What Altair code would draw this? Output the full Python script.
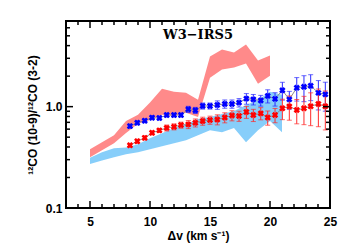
import altair as alt
import pandas as pd

# ---- model bands ----
pink_v = [5, 6, 7, 8, 9, 10, 11, 12, 13, 14, 15, 16, 17, 18, 19, 20]
pink_lo = [0.316, 0.371, 0.435, 0.55, 0.68, 0.74, 0.83, 0.81, 0.87, 0.79, 1.93, 2.32, 2.43, 2.66, 1.68, 2.02]
pink_hi = [0.380, 0.446, 0.523, 0.72, 0.83, 1.10, 1.50, 1.40, 1.37, 1.17, 3.12, 3.66, 3.42, 4.11, 2.85, 3.19]

sky_v = [5, 6, 7, 8, 9, 10, 11, 12, 13, 14, 15, 16, 17, 18, 19, 20, 21]
sky_lo = [0.272, 0.295, 0.316, 0.339, 0.355, 0.380, 0.407, 0.435, 0.467, 0.523, 0.586, 0.560, 0.614, 0.446, 0.586, 0.721, 0.560]
sky_hi = [0.313, 0.355, 0.389, 0.395, 0.425, 0.489, 0.548, 0.614, 0.673, 0.755, 0.790, 0.846, 0.906, 1.040, 1.166, 1.40, 1.307]

# ---- observed ratios ----
vel = [8.33, 8.94, 9.56, 10.17, 10.78, 11.39, 12.00, 12.58, 13.19, 13.78, 14.39, 15.00, 15.61, 16.23,
       16.83, 17.42, 18.03, 18.61, 19.23, 19.81, 20.42, 21.03, 21.61, 22.23, 22.83, 23.39, 24.03, 24.61]
blue_ratio = [0.643, 0.693, 0.726, 0.778, 0.773, 0.827, 0.827, 0.827, 0.942, 0.920, 1.016, 1.016, 1.040, 1.064,
              1.064, 1.096, 1.201, 1.179, 1.152, 1.277, 1.193, 1.449, 1.179, 1.535, 1.570, 1.606, 1.368, 1.322]
blue_err = [0.030, 0.032, 0.033, 0.036, 0.036, 0.038, 0.038, 0.038, 0.066, 0.064, 0.070, 0.070, 0.100, 0.100,
            0.100, 0.105, 0.145, 0.140, 0.140, 0.190, 0.180, 0.290, 0.236, 0.400, 0.450, 0.460, 0.440, 0.420]
red_ratio = [0.416, 0.456, 0.492, 0.552, 0.583, 0.617, 0.633, 0.658, 0.668, 0.693, 0.721, 0.738, 0.746, 0.781,
             0.818, 0.809, 0.886, 0.827, 0.859, 0.781, 0.827, 0.964, 1.005, 0.927, 0.964, 1.009, 1.064, 1.009]
red_err = [0.019, 0.021, 0.023, 0.025, 0.027, 0.042, 0.043, 0.045, 0.061, 0.063, 0.066, 0.068, 0.085, 0.089,
           0.094, 0.093, 0.120, 0.114, 0.118, 0.125, 0.133, 0.220, 0.270, 0.250, 0.300, 0.360, 0.430, 0.420]

x_major = [5, 10, 15, 20, 25]
x_minor = [3, 4, 6, 7, 8, 9, 11, 12, 13, 14, 16, 17, 18, 19, 21, 22, 23, 24]
y_major = [0.1, 1]
y_minor = [0.2, 0.3, 0.4, 0.5, 0.6, 0.7, 0.8, 0.9, 2, 3, 4, 5, 6]

FONT = "Liberation Sans"
PINK = "#ff8a8a"
SKY = "#87cefa"
W, H = 264, 187
MAJ, MIN = 7, 4

pink_df = pd.DataFrame({"v": pink_v, "lo": pink_lo, "hi": pink_hi})
sky_df = pd.DataFrame({"v": sky_v, "lo": sky_lo, "hi": sky_hi})
blue_df = pd.DataFrame({"v": vel, "r": blue_ratio, "lo": [a - b for a, b in zip(blue_ratio, blue_err)],
                        "hi": [a + b for a, b in zip(blue_ratio, blue_err)]})
red_df = pd.DataFrame({"v": vel, "r": red_ratio, "lo": [a - b for a, b in zip(red_ratio, red_err)],
                       "hi": [a + b for a, b in zip(red_ratio, red_err)]})

xs = alt.Scale(domain=[3, 25], nice=False, zero=False)
ys = alt.Scale(type="log", domain=[0.1, 7], nice=False)

x_axis = alt.Axis(values=x_major, format="d", ticks=False, domain=False, grid=False,
                  labelFont=FONT, labelFontSize=12, labelFontWeight="bold", labelColor="black",
                  labelPadding=8, labelFlush=False, labelOverlap=False,
                  title="Δv (km s⁻¹)", titleFont=FONT, titleFontSize=12, titleFontWeight="bold",
                  titleColor="black", titlePadding=3)
y_axis = alt.Axis(values=y_major, format=".1f", ticks=False, domain=False, grid=False,
                  labelFont=FONT, labelFontSize=12, labelFontWeight="bold", labelColor="black",
                  labelPadding=4, labelFlush=False, labelOverlap=False,
                  title="¹²CO (10-9)/¹²CO (3-2)", titleFont=FONT, titleFontSize=12, titleFontWeight="bold",
                  titleColor="black", titlePadding=6)

pink = alt.Chart(pink_df).mark_area(color=PINK, opacity=1).encode(
    x=alt.X("v:Q", scale=xs, axis=x_axis),
    y=alt.Y("lo:Q", scale=ys, axis=y_axis),
    y2="hi:Q",
)
sky = alt.Chart(sky_df).mark_area(color=SKY, opacity=1).encode(
    x=alt.X("v:Q", scale=xs, axis=None),
    y=alt.Y("lo:Q", scale=ys, axis=None),
    y2="hi:Q",
)


def line(df):
    return alt.Chart(df).mark_line(color="#8c8c8c", strokeWidth=1).encode(
        x=alt.X("v:Q", scale=xs, axis=None),
        y=alt.Y("r:Q", scale=ys, axis=None),
    )


def errs(df, color):
    bars = alt.Chart(df).mark_rule(color=color, strokeWidth=1).encode(
        x=alt.X("v:Q", scale=xs, axis=None),
        y=alt.Y("lo:Q", scale=ys, axis=None),
        y2="hi:Q",
    )
    cap_lo = alt.Chart(df).mark_tick(color=color, orient="horizontal", size=5, thickness=1).encode(
        x=alt.X("v:Q", scale=xs, axis=None),
        y=alt.Y("lo:Q", scale=ys, axis=None),
    )
    cap_hi = alt.Chart(df).mark_tick(color=color, orient="horizontal", size=5, thickness=1).encode(
        x=alt.X("v:Q", scale=xs, axis=None),
        y=alt.Y("hi:Q", scale=ys, axis=None),
    )
    return [bars, cap_lo, cap_hi]


def pts(df, color):
    return alt.Chart(df).mark_point(shape="cross", angle=45, filled=True, size=42, color=color, opacity=1).encode(
        x=alt.X("v:Q", scale=xs, axis=None),
        y=alt.Y("r:Q", scale=ys, axis=None),
    )


# inward-pointing tick marks on all four sides, placed by the scales
def xticks(values, length):
    df = pd.DataFrame({"t": values})
    base = alt.Chart(df).mark_rule(color="black", strokeWidth=1.5)
    bottom = base.encode(x=alt.X("t:Q", scale=xs, axis=None), y=alt.value(H), y2=alt.value(H - length))
    top = base.encode(x=alt.X("t:Q", scale=xs, axis=None), y=alt.value(0), y2=alt.value(length))
    return [bottom, top]


def yticks(values, length):
    df = pd.DataFrame({"t": values})
    base = alt.Chart(df).mark_rule(color="black", strokeWidth=1.5)
    left = base.encode(y=alt.Y("t:Q", scale=ys, axis=None), x=alt.value(0), x2=alt.value(length))
    right = base.encode(y=alt.Y("t:Q", scale=ys, axis=None), x=alt.value(W), x2=alt.value(W - length))
    return [left, right]


chart = alt.layer(
    pink, sky, line(blue_df), line(red_df),
    *errs(blue_df, "#2a2aff"), *errs(red_df, "#ff2a2a"),
    pts(blue_df, "#0000ff"), pts(red_df, "#ff0000"),
    *xticks(x_major, MAJ), *xticks(x_minor, MIN),
    *yticks(y_major, MAJ), *yticks(y_minor, MIN),
).resolve_axis(x="independent", y="independent").properties(
    width=W, height=H,
    title=alt.TitleParams("W3−IRS5", font="DejaVu Serif", fontSize=13, fontWeight="bold", color="black",
                          anchor="middle", frame="group", offset=-22),
    autosize=alt.AutoSizeParams(type="none"),
    padding={"left": 58, "top": 13, "right": 12, "bottom": 35},
).configure_view(stroke="black", strokeWidth=2)

chart.save("out.html", embed_options={"renderer": "svg", "actions": False})
